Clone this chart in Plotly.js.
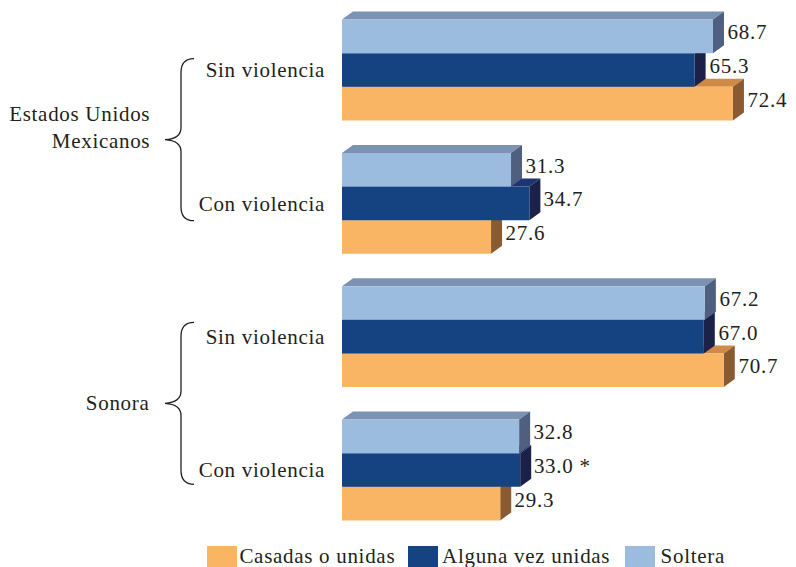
<!DOCTYPE html>
<html>
<head>
<meta charset="utf-8">
<script src="https://cdn.plot.ly/plotly-3.0.1.min.js"></script>
<style>html,body{margin:0;padding:0;background:#fff;}#chart{width:796px;height:567px;}#chart text{letter-spacing:0.7px;}</style>
</head>
<body>
<div id="chart"></div>
<script>
// ---- Data ----
const categories = ['Sin violencia', 'Con violencia', 'Sin violencia', 'Con violencia'];
const groupLabels = ['Estados Unidos<br>Mexicanos', 'Sonora'];
const seriesNames = ['Casadas o unidas', 'Alguna vez unidas', 'Soltera'];
const casadas = [72.4, 27.6, 70.7, 29.3];
const alguna  = [65.3, 34.7, 67.0, 33.0];
const soltera = [68.7, 31.3, 67.2, 32.8];
const casadasNotes = ['', '', '', ''];
const algunaNotes  = ['', '', '', ' *'];
const solteraNotes = ['', '', '', ''];

// ---- Styling / layout helpers ----
const FONT = 'Liberation Serif';
const TXT = '#231f20';
const ML = 342, MR = 22, MT = 10, MB = 37, W = 796, H = 567;
const PW = W - ML - MR, PH = H - MT - MB;
const XMAX = 80;
const YR = [3.45, -0.45];
const pxPerX = PW / XMAX;
const pxPerY = PH / (YR[0] - YR[1]);
const DX = 11 / pxPerX, DY = 8 / pxPerY;
const BW = 0.252;
const pos = categories.map((_, i) => i);

const series = [
  {name: seriesNames[0], vals: casadas, notes: casadasNotes, slot: 2, front: '#f9b464', top: '#d08a48', side: '#8a5a30'},
  {name: seriesNames[1], vals: alguna,  notes: algunaNotes,  slot: 1, front: '#154381', top: '#1f3470', side: '#1c2149'},
  {name: seriesNames[2], vals: soltera, notes: solteraNotes, slot: 0, front: '#9bbbdf', top: '#7b92b3', side: '#4e5f80'}
];

const px2paperX = px => (px - ML) / PW;
const px2paperY = py => 1 - (py - MT) / PH;

const traces = [];
const topShapes = [], sideShapes = [], annotations = [];
series.forEach(s => {
  const off = -1.5 * BW + s.slot * BW;
  traces.push({
    type: 'bar', orientation: 'h', name: s.name,
    x: s.vals, y: pos, width: BW, offset: off,
    marker: {color: s.front, line: {width: 0}},
    showlegend: false, hoverinfo: 'skip'
  });
  s.vals.forEach((v, i) => {
    const yT = pos[i] + off, yB = yT + BW;
    topShapes.push({type: 'path', xref: 'x', yref: 'y', layer: 'below',
      path: `M 0,${yT} L ${DX},${yT - DY} L ${v + DX},${yT - DY} L ${v},${yT} Z`,
      fillcolor: s.top, line: {width: 0}});
    sideShapes.push({type: 'path', xref: 'x', yref: 'y', layer: 'below',
      path: `M ${v},${yT} L ${v + DX},${yT - DY} L ${v + DX},${yB - DY} L ${v},${yB} Z`,
      fillcolor: s.side, line: {width: 0}});
    annotations.push({xref: 'x', yref: 'y', x: v, y: yT + BW / 2,
      xanchor: 'left', yanchor: 'middle', xshift: 14, yshift: 4, showarrow: false,
      text: v.toFixed(1) + s.notes[i], font: {family: FONT, size: 21, color: TXT}});
  });
});

// group labels + braces
const braceShapes = [];
groupLabels.forEach((g, gi) => {
  const mid = (pos[gi * 2] + pos[gi * 2 + 1]) / 2;
  annotations.push({xref: 'paper', yref: 'y', x: px2paperX(152), y: mid,
    xanchor: 'right', yanchor: 'middle', align: 'right', showarrow: false,
    yshift: gi === 0 ? 9 : 0,
    text: g, font: {family: FONT, size: 21, color: TXT}});
  const Tpx = MT + (mid - YR[1]) * pxPerY + (gi === 0 ? 3 : 0);
  const Y0 = Tpx - 81, Y1 = Tpx + 81;
  const P = (x, y) => `${px2paperX(x)},${px2paperY(y)}`;
  const path = `M ${P(194, Y0)} Q ${P(181, Y0)} ${P(181, Y0 + 14)} L ${P(181, Tpx - 12)} ` +
    `Q ${P(181, Tpx - 1)} ${P(165, Tpx)} Q ${P(181, Tpx + 1)} ${P(181, Tpx + 12)} ` +
    `L ${P(181, Y1 - 14)} Q ${P(181, Y1)} ${P(194, Y1)}`;
  braceShapes.push({type: 'path', xref: 'paper', yref: 'paper', path: path,
    line: {color: TXT, width: 1.3}});
});

// manual legend (large square swatches)
const legendItems = [
  {s: series[0], sq: 207, tx: 243},
  {s: series[1], sq: 408, tx: 446},
  {s: series[2], sq: 625, tx: 661}
];
const legendShapes = [];
legendItems.forEach(it => {
  legendShapes.push({type: 'rect', xref: 'paper', yref: 'paper',
    x0: px2paperX(it.sq), x1: px2paperX(it.sq + 30),
    y0: px2paperY(567), y1: px2paperY(546),
    fillcolor: it.s.front, line: {width: 0}});
  annotations.push({xref: 'paper', yref: 'paper', x: px2paperX(it.tx), y: px2paperY(556),
    xanchor: 'left', yanchor: 'middle', showarrow: false,
    text: it.s.name, font: {family: FONT, size: 21, color: TXT}});
});

const layout = {
  width: W, height: H,
  margin: {l: ML, r: MR, t: MT, b: MB, pad: 0},
  paper_bgcolor: '#ffffff', plot_bgcolor: '#ffffff',
  barmode: 'overlay',
  showlegend: false,
  xaxis: {range: [0, XMAX], visible: false, showgrid: false, zeroline: false},
  yaxis: {range: YR, tickvals: pos, ticktext: categories, showgrid: false, zeroline: false,
    showline: false, ticks: '', ticklabelstandoff: 16,
    tickfont: {family: FONT, size: 21, color: TXT}},
  shapes: topShapes.concat(sideShapes, braceShapes, legendShapes),
  annotations: annotations,
  font: {family: FONT, color: TXT}
};

Plotly.newPlot('chart', traces, layout, {staticPlot: true, displayModeBar: false});
</script>
</body>
</html>
